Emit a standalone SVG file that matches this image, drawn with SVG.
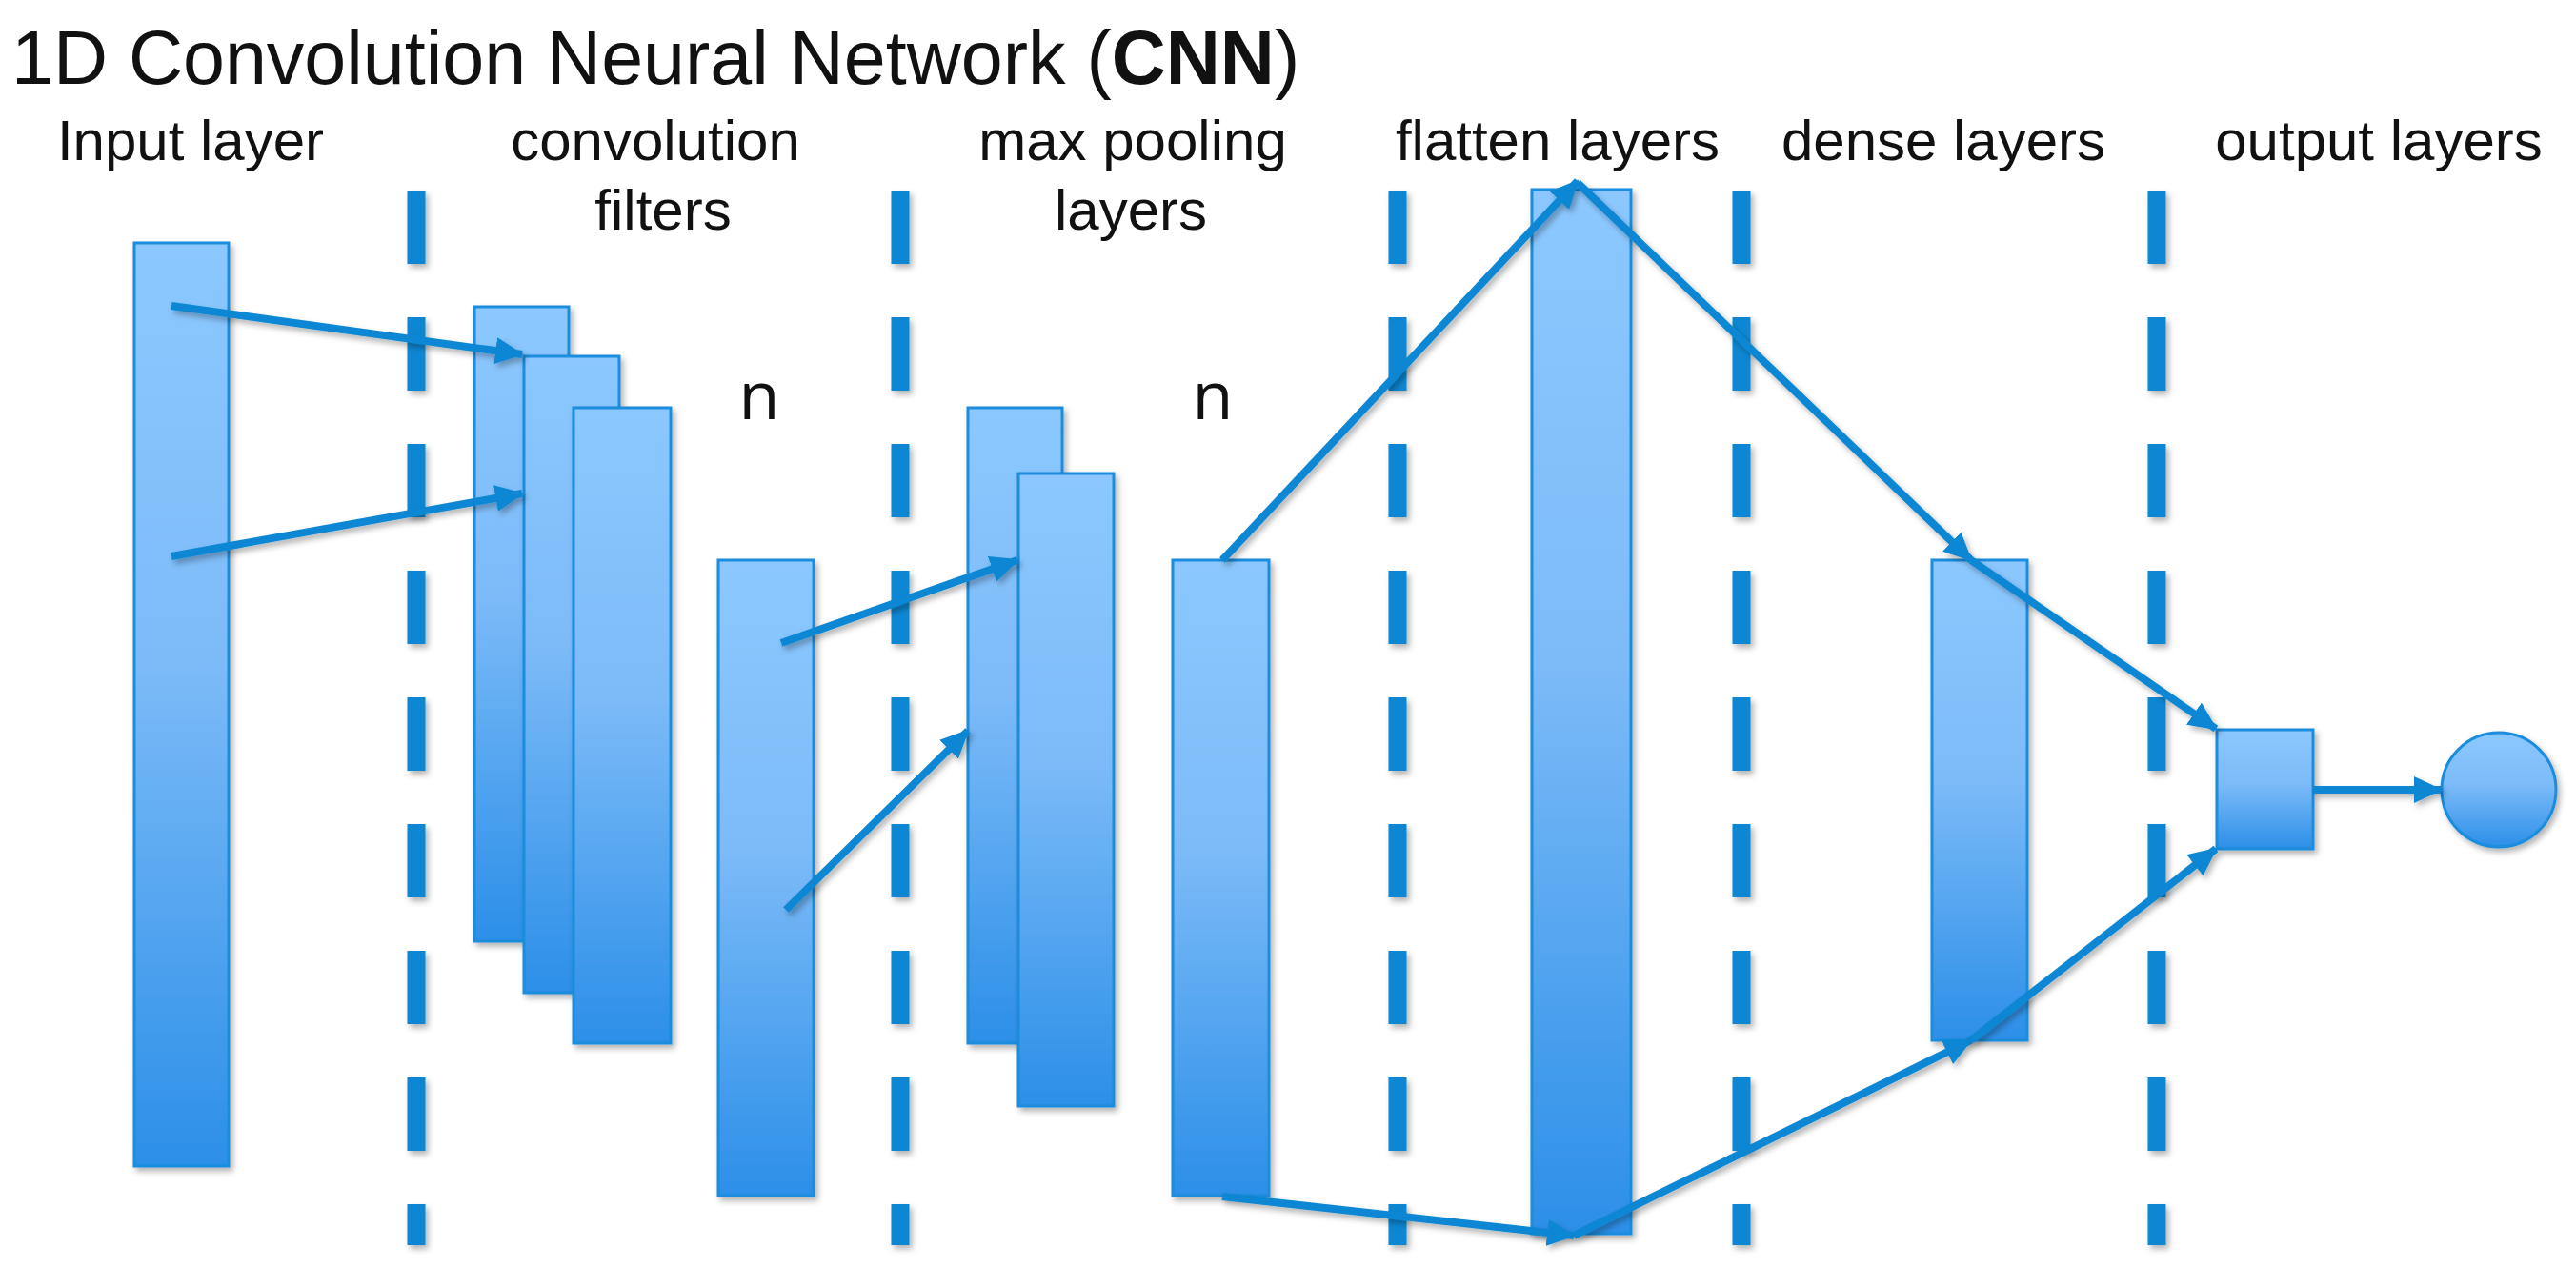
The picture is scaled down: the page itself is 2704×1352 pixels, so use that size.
<svg xmlns="http://www.w3.org/2000/svg" width="2704" height="1352" viewBox="0 0 2704 1352">
<defs>
<linearGradient id="g" x1="0" y1="0" x2="0" y2="1">
<stop offset="0" stop-color="#8CC8FF"/>
<stop offset="0.45" stop-color="#7DBBF8"/>
<stop offset="1" stop-color="#2C8FE8"/>
</linearGradient>
<filter id="sh" filterUnits="userSpaceOnUse" x="0" y="0" width="2704" height="1352">
<feDropShadow dx="3" dy="4" stdDeviation="3" flood-color="#000" flood-opacity="0.3"/>
</filter>
<marker id="ah" markerUnits="userSpaceOnUse" markerWidth="30" markerHeight="28" refX="28" refY="14" orient="auto">
<path d="M0,0 L30,14 L0,28 z" fill="#0A87D3"/>
</marker>
</defs>
<style>
.box{fill:url(#g);stroke:#1A8CDC;stroke-width:3;filter:url(#sh)}
.dash{stroke:#0A87D3;stroke-width:19;stroke-dasharray:77 56;fill:none;filter:url(#sh)}
.con{stroke:#0A87D3;stroke-width:8;fill:none;filter:url(#sh)}
.con.a{marker-end:url(#ah)}
.lbl{font-family:"Liberation Sans",Arial,sans-serif;font-size:60px;fill:#111;text-anchor:middle}
.n{font-family:"Open Sans","Liberation Sans",sans-serif;font-size:70px;fill:#111;text-anchor:middle}
.title{font-family:"Liberation Sans",Arial,sans-serif;font-size:79px;fill:#111}
</style>
<rect width="2704" height="1352" fill="#fff"/>
<text class="title" x="12" y="88">1D Convolution Neural Network (<tspan font-weight="bold">CNN</tspan>)</text>
<g id="labels">
<text class="lbl" x="200" y="168">Input layer</text>
<text class="lbl" x="688" y="168">convolution</text>
<text class="lbl" x="696" y="241">filters</text>
<text class="lbl" x="1189" y="168">max pooling</text>
<text class="lbl" x="1187" y="241">layers</text>
<text class="lbl" x="1635" y="168">flatten layers</text>
<text class="lbl" x="2040" y="168">dense layers</text>
<text class="lbl" x="2497" y="168">output layers</text>
<text class="n" x="797" y="440">n</text>
<text class="n" x="1273" y="440">n</text>
</g>
<g id="separators">
<line class="dash" x1="437" y1="200" x2="437" y2="1307"/>
<line class="dash" x1="945" y1="200" x2="945" y2="1307"/>
<line class="dash" x1="1467" y1="200" x2="1467" y2="1307"/>
<line class="dash" x1="1828" y1="200" x2="1828" y2="1307"/>
<line class="dash" x1="2264" y1="200" x2="2264" y2="1307"/>
</g>
<g id="input"><rect class="box" x="141" y="255" width="99" height="969"/></g>
<g id="conv1"><rect class="box" x="498" y="322" width="99" height="666"/></g>
<g id="conv2"><rect class="box" x="550" y="374" width="100" height="668"/></g>
<g id="conv3"><rect class="box" x="602" y="428" width="102" height="667"/></g>
<g id="convout"><rect class="box" x="754" y="588" width="100" height="667"/></g>
<g id="pool1"><rect class="box" x="1016" y="428" width="99" height="667"/></g>
<g id="pool2"><rect class="box" x="1069" y="497" width="100" height="664"/></g>
<g id="poolout"><rect class="box" x="1231" y="588" width="101" height="667"/></g>
<g id="flatten"><rect class="box" x="1608" y="199" width="104" height="1096"/></g>
<g id="dense"><rect class="box" x="2028" y="588" width="100" height="504"/></g>
<g id="outsq"><rect class="box" x="2327" y="766" width="101" height="125"/></g>
<g id="outcirc"><circle class="box" cx="2623" cy="829" r="60"/></g>
<g id="connectors">
<line class="con a" x1="180" y1="321" x2="548" y2="372"/>
<line class="con a" x1="180" y1="584" x2="548" y2="518"/>
<line class="con a" x1="820" y1="675" x2="1068" y2="588"/>
<line class="con a" x1="825" y1="955" x2="1016" y2="767"/>
<line class="con a" x1="1283" y1="588" x2="1656" y2="190"/>
<line class="con a" x1="1656" y1="192" x2="2069" y2="588"/>
<line class="con a" x1="2069" y1="588" x2="2326" y2="765"/>
<line class="con a" x1="1283" y1="1256" x2="1652" y2="1297"/>
<line class="con a" x1="1652" y1="1297" x2="2069" y2="1092"/>
<line class="con a" x1="2069" y1="1092" x2="2326" y2="891"/>
<line class="con a" x1="2428" y1="829" x2="2562" y2="829"/>
</g>
</svg>
